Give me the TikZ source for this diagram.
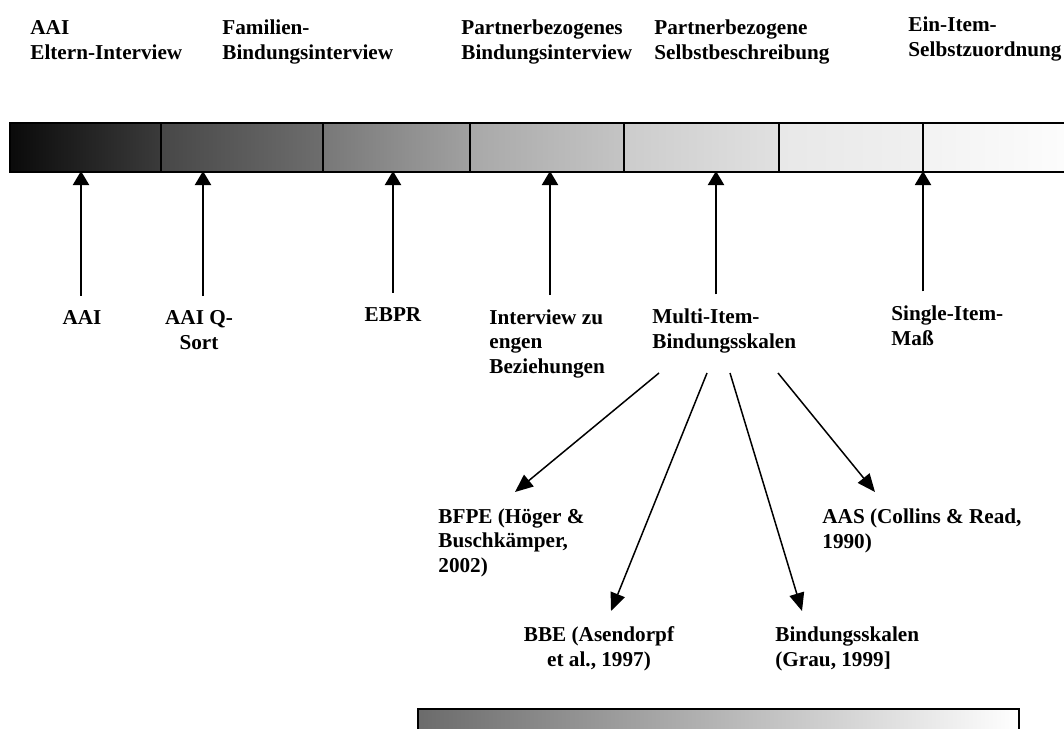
\documentclass[tikz,border=0pt]{standalone}
\usepackage{fontspec}
\setmainfont{Liberation Serif}
\usetikzlibrary{arrows.meta}
\tikzstyle{lbl}=[font=\fontsize{10.6}{12.2}\selectfont\bfseries, inner sep=0pt, align=left, anchor=base west]
\tikzstyle{clbl}=[lbl, align=center, anchor=base]
\tikzstyle{uparrow}=[->, line width=1pt, shorten <=7pt]
\tikzstyle{fanarrow}=[-{Triangle[length=9pt,width=7.5pt]}, line width=0.75pt]
\tikzstyle{barline}=[line width=1pt]

\begin{document}
\begin{tikzpicture}[x=0.5pt,y=-0.5pt,>={Triangle[length=7pt,width=8pt]}]
  \useasboundingbox (0,0) rectangle (1064,728);
  \clip (0,0) rectangle (1064,728);
  % headings above the bar (placed at the baseline of the last line)
  \node [lbl] (eltern) at (30,59) {AAI\\Eltern-Interview};
  \node [lbl] (familie) at (222,59) {Familien-\\Bindungsinterview};
  \node [lbl] (partint) at (461,59) {Partnerbezogenes\\Bindungsinterview};
  \node [lbl] (partselbst) at (654,59) {Partnerbezogene\\Selbstbeschreibung};
  \node [lbl] (einitem) at (908,56) {Ein-Item-\\Selbstzuordnung};
  % shaded bar
  \foreach \xa/\xb/\ca/\cb in {10/161/96/77, 161/323/72/57, 323/470/53/37, 470/624/34/23, 624/779/20/12, 779/923/9/6, 923/1070/5/1}
    \shade[left color=black!\ca, right color=black!\cb] (\xa,123) rectangle (\xb,172);
  \draw[barline] (1070,123) -- (10,123) -- (10,172) -- (1070,172);
  \foreach \xd in {161,323,470,624,779,923}
    \draw[barline] (\xd,123) -- (\xd,172);
  \coordinate (t1) at (81,171);
  \coordinate (t2) at (203,171);
  \coordinate (t3) at (393,171);
  \coordinate (t4) at (550,171);
  \coordinate (t5) at (716,171);
  \coordinate (t6) at (923,171);
  % instruments
  \node [clbl] (aai) at (82,324) {AAI};
  \node [clbl] (qsort) at (199,349) {AAI Q-\\Sort};
  \node [clbl] (ebpr) at (393,321) {EBPR};
  \node [lbl] (interv) at (489,373) {Interview zu\\engen\\Beziehungen};
  \node [lbl] (multi) at (652,348) {Multi-Item-\\Bindungsskalen};
  \node [lbl] (single) at (891,345) {Single-Item-\\Maß};
  \draw[uparrow] (aai.north -| t1) -- (t1);
  \draw[uparrow] (qsort.north -| t2) -- (t2);
  \draw[uparrow] (ebpr.north -| t3) -- (t3);
  \draw[uparrow] (interv.north -| t4) -- (t4);
  \draw[uparrow] (multi.north -| t5) -- (t5);
  \draw[uparrow] (single.north -| t6) -- (t6);
  % scales
  \node [lbl] (bfpe) at (438,572) {BFPE (Höger \&\\Buschkämper,\\2002)};
  \node [lbl] (aas) at (822,548) {AAS (Collins \& Read,\\1990)};
  \node [clbl] (bbe) at (599,666) {BBE (Asendorpf\\et al., 1997)};
  \node [lbl] (grau) at (775,666) {Bindungsskalen\\(Grau, 1999]};
  \coordinate (f1) at (659,373);
  \coordinate (f2) at (707,373);
  \coordinate (f3) at (730,373);
  \coordinate (f4) at (778,373);
  \coordinate (e1) at (515,492);
  \coordinate (e2) at (611,611);
  \coordinate (e3) at (802,611);
  \coordinate (e4) at (875,492);
  \draw[fanarrow] (f1) -- (e1);
  \draw[fanarrow] (f2) -- (e2);
  \draw[fanarrow] (f3) -- (e3);
  \draw[fanarrow] (f4) -- (e4);
  % lower bar
  \shade[left color=black!58, middle color=black!15, right color=white] (418,709) rectangle (1019,740);
  \draw[barline] (418,740) -- (418,709) -- (1019,709) -- (1019,740);
\end{tikzpicture}
\end{document}
